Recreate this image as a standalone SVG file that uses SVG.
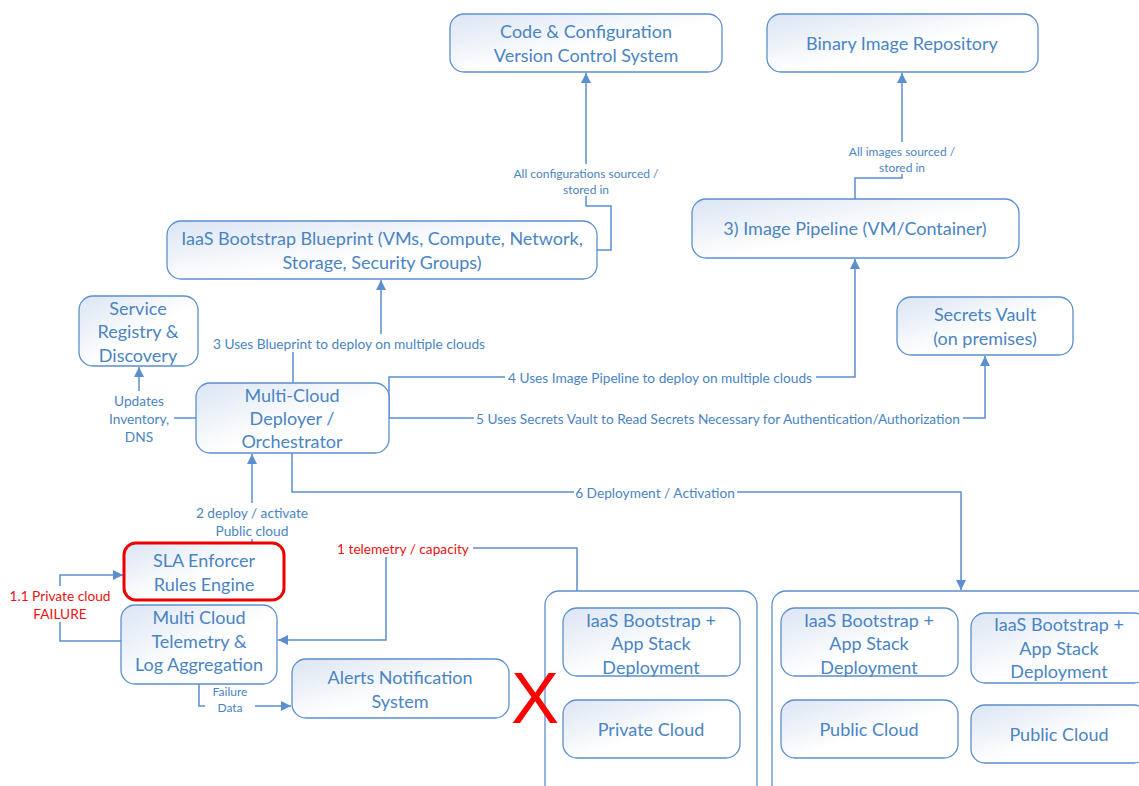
<svg xmlns="http://www.w3.org/2000/svg" width="1139" height="786" viewBox="0 0 1139 786">
  <defs>
    <linearGradient id="boxFill" x1="0" y1="0" x2="1" y2="1">
      <stop offset="0" stop-color="#dbe5f3"/>
      <stop offset="0.55" stop-color="#ffffff"/>
      <stop offset="1" stop-color="#ffffff"/>
    </linearGradient>
    <marker id="arrow" viewBox="0 0 10 10" refX="10" refY="5" markerWidth="10" markerHeight="10" markerUnits="userSpaceOnUse" orient="auto">
      <path d="M0,0 L10,5 L0,10 Z" fill="#5b8fd0"/>
    </marker>
    <style>
      .box { fill: url(#boxFill); stroke: #5b8fd0; stroke-width: 1.3; }
      .frame { fill: #ffffff; stroke: #5b8fd0; stroke-width: 1.3; }
      .alert { fill: url(#boxFill); stroke: #ee0000; stroke-width: 3; }
      .t { font-family: Lato, "Open Sans", sans-serif; font-size: 18px; fill: #4a84c4; text-anchor: middle; dominant-baseline: central; }
      .lbl { font-family: Lato, "Open Sans", sans-serif; font-size: 13.7px; fill: #4a84c4; text-anchor: middle; dominant-baseline: central; }
      .sm { font-family: Lato, "Open Sans", sans-serif; font-size: 12px; fill: #4a84c4; text-anchor: middle; dominant-baseline: central; }
      .red { fill: #ee1111; }
      .wire { fill: none; stroke: #5b8fd0; stroke-width: 1.5; }
      .bg { fill: #ffffff; }
    </style>
  </defs>

  <rect width="1139" height="786" fill="#ffffff"/>

  <!-- connectors -->
  <g id="connectors">
    <path class="wire" d="M597,250 H611 V206 H586 V73" marker-end="url(#arrow)"/>
    <path class="wire" d="M855,199 V178 H902 V73" marker-end="url(#arrow)"/>
    <path class="wire" d="M293,383 V343 H381 V280" marker-end="url(#arrow)"/>
    <path class="wire" d="M196,418 H139 V367" marker-end="url(#arrow)"/>
    <path class="wire" d="M389,418 V377 H855 V259" marker-end="url(#arrow)"/>
    <path class="wire" d="M389,418 H985 V356" marker-end="url(#arrow)"/>
    <path class="wire" d="M292,453 V492 H961 V590" marker-end="url(#arrow)"/>
    <path class="wire" d="M252,543 V454" marker-end="url(#arrow)"/>
    <path class="wire" d="M121,641 H60 V575 H123" marker-end="url(#arrow)"/>
    <path class="wire" d="M577,591 V548 H386 V640 H278" marker-end="url(#arrow)"/>
    <path class="wire" d="M199,684 V706 H291" marker-end="url(#arrow)"/>

    <!-- connector labels -->
    <rect class="bg" x="508" y="164" width="156" height="32"/>
    <text class="sm" x="586" y="173">All configurations sourced /</text>
    <text class="sm" x="586" y="189">stored in</text>

    <rect class="bg" x="843" y="142" width="118" height="32"/>
    <text class="sm" x="902" y="151">All images sourced /</text>
    <text class="sm" x="902" y="167">stored in</text>

    <rect class="bg" x="209" y="334" width="280" height="18"/>
    <text class="lbl" x="349" y="343">3 Uses Blueprint to deploy on multiple clouds</text>

    <rect class="bg" x="106" y="391" width="68" height="54"/>
    <text class="lbl" x="139" y="400">Updates</text>
    <text class="lbl" x="139" y="418">Inventory,</text>
    <text class="lbl" x="139" y="436">DNS</text>

    <rect class="bg" x="505" y="368" width="311" height="18"/>
    <text class="lbl" x="660" y="377">4 Uses Image Pipeline to deploy on multiple clouds</text>

    <rect class="bg" x="474" y="409" width="489" height="18"/>
    <text class="lbl" x="718" y="418">5 Uses Secrets Vault to Read Secrets Necessary for Authentication/Authorization</text>

    <rect class="bg" x="574" y="483" width="163" height="18"/>
    <text class="lbl" x="655" y="492">6 Deployment / Activation</text>

    <rect class="bg" x="190" y="503" width="124" height="36"/>
    <text class="lbl" x="252" y="512">2 deploy / activate</text>
    <text class="lbl" x="252" y="530">Public cloud</text>

    <rect class="bg" x="4" y="586" width="112" height="36"/>
    <text class="lbl red" x="60" y="595">1.1 Private cloud</text>
    <text class="lbl red" x="60" y="613">FAILURE</text>

    <rect class="bg" x="333" y="539" width="140" height="18"/>
    <text class="lbl red" x="403" y="548">1 telemetry / capacity</text>

    <rect class="bg" x="205" y="684" width="50" height="32"/>
    <text class="sm" x="230" y="691">Failure</text>
    <text class="sm" x="230" y="707">Data</text>
  </g>

  <!-- nodes -->
  <g id="code-config">
    <rect class="box" x="450" y="14" width="272" height="58" rx="14"/>
    <text class="t" x="586" y="31">Code &amp; Configuration</text>
    <text class="t" x="586" y="55">Version Control System</text>
  </g>

  <g id="binary-repo">
    <rect class="box" x="767" y="14" width="271" height="58" rx="14"/>
    <text class="t" x="902" y="43">Binary Image Repository</text>
  </g>

  <g id="blueprint">
    <rect class="box" x="167" y="221" width="430" height="58" rx="14"/>
    <text class="t" x="382" y="238">IaaS Bootstrap Blueprint (VMs, Compute, Network,</text>
    <text class="t" x="382" y="262">Storage, Security Groups)</text>
  </g>

  <g id="image-pipeline">
    <rect class="box" x="692" y="199" width="327" height="59" rx="14"/>
    <text class="t" x="855" y="228">3) Image Pipeline (VM/Container)</text>
  </g>

  <g id="secrets-vault">
    <rect class="box" x="897" y="297" width="176" height="58" rx="14"/>
    <text class="t" x="985" y="314">Secrets Vault</text>
    <text class="t" x="985" y="338">(on premises)</text>
  </g>

  <g id="service-registry">
    <rect class="box" x="79" y="296" width="119" height="70" rx="14"/>
    <text class="t" x="138" y="308">Service</text>
    <text class="t" x="138" y="331">Registry &amp;</text>
    <text class="t" x="138" y="355">Discovery</text>
  </g>

  <g id="deployer">
    <rect class="box" x="196" y="383" width="193" height="70" rx="14"/>
    <text class="t" x="292" y="395">Multi-Cloud</text>
    <text class="t" x="292" y="418">Deployer /</text>
    <text class="t" x="292" y="441">Orchestrator</text>
  </g>

  <g id="sla-enforcer">
    <rect class="alert" x="124" y="543" width="160" height="57" rx="12"/>
    <text class="t" x="204" y="560">SLA Enforcer</text>
    <text class="t" x="204" y="584">Rules Engine</text>
  </g>

  <g id="telemetry">
    <rect class="box" x="121" y="605" width="156" height="79" rx="14"/>
    <text class="t" x="199" y="617">Multi Cloud</text>
    <text class="t" x="199" y="641">Telemetry &amp;</text>
    <text class="t" x="199" y="664">Log Aggregation</text>
  </g>

  <g id="alerts">
    <rect class="box" x="292" y="659" width="217" height="59" rx="14"/>
    <text class="t" x="400" y="677">Alerts Notification</text>
    <text class="t" x="400" y="701">System</text>
  </g>

  <g id="private-cloud-site">
    <rect class="frame" x="545" y="591" width="212" height="230" rx="14"/>
    <g id="private-stack">
      <rect class="box" x="563" y="608" width="177" height="68" rx="14"/>
      <text class="t" x="651" y="620">IaaS Bootstrap +</text>
      <text class="t" x="651" y="643">App Stack</text>
      <text class="t" x="651" y="667">Deployment</text>
    </g>
    <g id="private-cloud">
      <rect class="box" x="563" y="700" width="177" height="58" rx="14"/>
      <text class="t" x="651" y="729">Private Cloud</text>
    </g>
  </g>

  <g id="public-cloud-site">
    <rect class="frame" x="772" y="591" width="400" height="230" rx="14"/>
    <g id="public-stack-a">
      <rect class="box" x="781" y="608" width="177" height="68" rx="14"/>
      <text class="t" x="869" y="620">IaaS Bootstrap +</text>
      <text class="t" x="869" y="643">App Stack</text>
      <text class="t" x="869" y="667">Deployment</text>
    </g>
    <g id="public-cloud-a">
      <rect class="box" x="781" y="700" width="177" height="58" rx="14"/>
      <text class="t" x="869" y="729">Public Cloud</text>
    </g>
    <g id="public-stack-b">
      <rect class="box" x="971" y="613" width="177" height="70" rx="14"/>
      <text class="t" x="1059" y="624">IaaS Bootstrap +</text>
      <text class="t" x="1059" y="648">App Stack</text>
      <text class="t" x="1059" y="671">Deployment</text>
    </g>
    <g id="public-cloud-b">
      <rect class="box" x="971" y="705" width="177" height="58" rx="14"/>
      <text class="t" x="1059" y="734">Public Cloud</text>
    </g>
  </g>

  <!-- failure mark over the private cloud site -->
  <text x="535" y="723" font-family="Liberation Sans, Arial, sans-serif" font-size="72" fill="#ff0000" text-anchor="middle">X</text>
</svg>
